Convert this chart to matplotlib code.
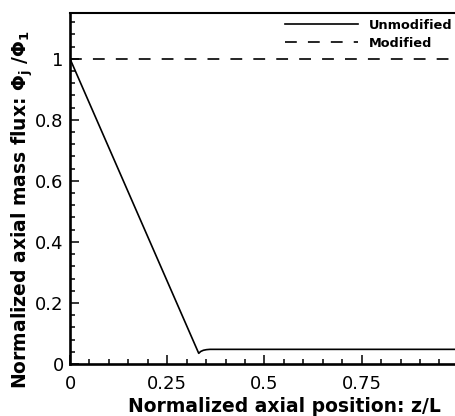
import matplotlib
matplotlib.use("Agg")
import matplotlib.pyplot as plt
from matplotlib.ticker import MultipleLocator, FixedLocator

# ---- data ----
x_unmod = [0.0, 0.331, 0.336, 0.343, 0.351, 0.360, 0.370, 0.99]
y_unmod = [1.0, 0.035, 0.041, 0.045, 0.047, 0.048, 0.048, 0.048]
x_mod = [0.0, 0.99]
y_mod = [1.0, 1.0]
series_labels = ["Unmodified", "Modified"]
x_ticks = [0, 0.25, 0.5, 0.75]
x_ticklabels = ["0", "0.25", "0.5", "0.75"]
y_ticks = [0, 0.2, 0.4, 0.6, 0.8, 1.0]
y_ticklabels = ["0", "0.2", "0.4", "0.6", "0.8", "1"]

plt.rcParams['font.family'] = ['DejaVu Sans']
plt.rcParams['mathtext.fontset'] = 'dejavusans'
plt.rcParams['lines.scale_dashes'] = False

W, H = 455, 416
fig = plt.figure(figsize=(W / 100, H / 100), dpi=100)
left, bottom, top = 70, 364, 13
ax = fig.add_axes([left / W, (H - bottom) / H, (W - left) / W, (bottom - top) / H])

ax.plot(x_unmod, y_unmod, color='black', lw=1.2, label=series_labels[0])
ax.plot(x_mod, y_mod, color='black', lw=1.2, dashes=(8.5, 8.0), label=series_labels[1])

ax.set_xlim(0, 0.99)
ax.set_ylim(0, 1.15)

ax.xaxis.set_major_locator(FixedLocator(x_ticks))
ax.set_xticklabels(x_ticklabels)
ax.xaxis.set_minor_locator(MultipleLocator(0.05))
ax.yaxis.set_major_locator(FixedLocator(y_ticks))
ax.set_yticklabels(y_ticklabels)
ax.yaxis.set_minor_locator(MultipleLocator(0.04))

ax.tick_params(which='both', direction='in', top=False, right=False, width=1.1, labelsize=13)
ax.tick_params(which='major', length=6.5)
ax.tick_params(which='minor', length=3.6)
ax.tick_params(axis='x', which='major', pad=8)
ax.tick_params(axis='y', which='major', pad=4.5)

ax.spines['right'].set_visible(False)
ax.spines['left'].set_linewidth(1.9)
ax.spines['bottom'].set_linewidth(1.9)
ax.spines['top'].set_linewidth(1.5)

ax.set_xlabel("Normalized axial position: z/L", fontsize=13.5, fontweight='bold')
ax.set_ylabel(r"Normalized axial mass flux: $\mathregular{\Phi_j\ /\Phi_1}$", fontsize=13.5, fontweight='bold')
ax.xaxis.set_label_coords((284.5 - left) / (W - left), -(397 - bottom) / (bottom - top))
ax.yaxis.set_label_coords(-(70 - 35) / (W - left), (bottom - 210) / (bottom - top))

leg = ax.legend(loc='upper right', bbox_to_anchor=(456 / W, (H - 15) / H), bbox_transform=fig.transFigure,
                frameon=False, prop={'weight': 'bold', 'size': 9.3}, handlelength=5.6,
                handletextpad=0.85, labelspacing=0.38, borderaxespad=0, borderpad=0.3)

fig.savefig("out.png", dpi=100)
